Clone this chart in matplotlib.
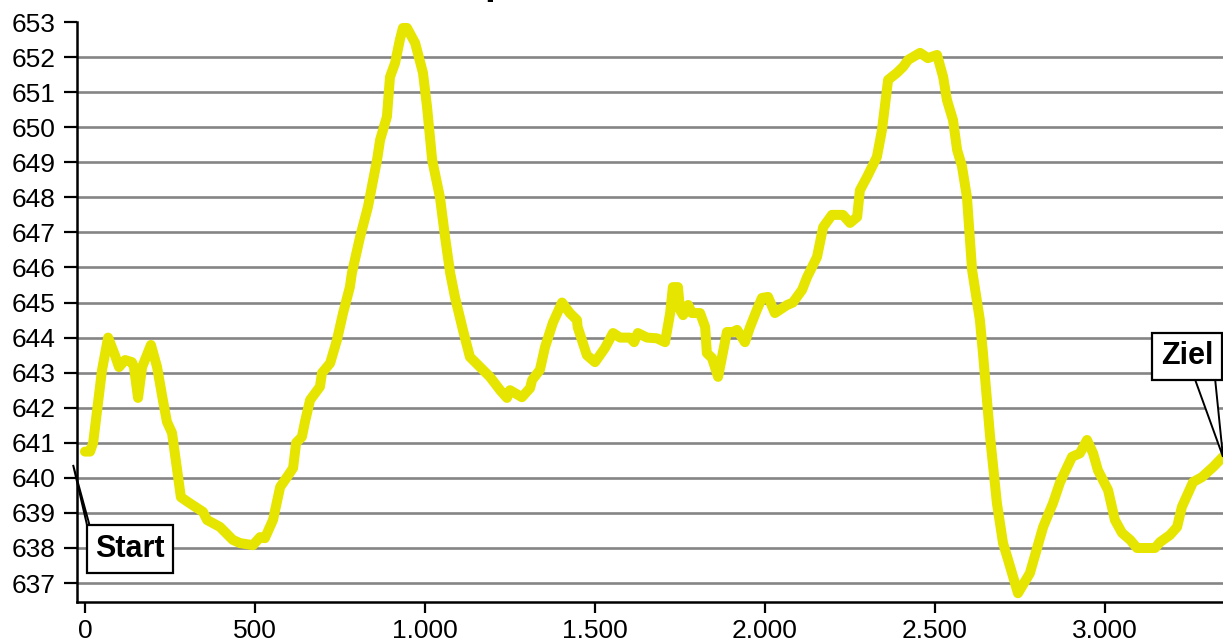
import matplotlib
matplotlib.use("Agg")
import matplotlib.pyplot as plt
from matplotlib.patches import Polygon
from matplotlib.ticker import FixedLocator, FixedFormatter

plt.rcParams['font.family'] = ['Liberation Sans', 'DejaVu Sans']

# distance (m) and elevation (m)
distance = [0, 15, 24, 50, 68, 88, 100, 118, 138, 144, 156, 168, 194, 212, 229, 241, 256,
            274, 282, 303, 347, 359, 397, 435, 456, 494, 515, 529, 553, 574, 594, 612, 621,
            638, 647, 662, 691, 697, 721, 741, 759, 779, 785, 809, 832, 859, 868, 888, 897,
            912, 926, 935, 947, 971, 994, 1006, 1021, 1044, 1059, 1074, 1088, 1112, 1132,
            1162, 1191, 1221, 1241, 1250, 1285, 1309, 1315, 1338, 1353, 1376, 1403, 1426,
            1447, 1449, 1476, 1500, 1529, 1553, 1574, 1603, 1615, 1626, 1653, 1682, 1706,
            1721, 1729, 1744, 1750, 1759, 1774, 1785, 1809, 1824, 1829, 1844, 1862, 1888,
            1906, 1918, 1941, 1956, 1976, 1991, 2009, 2029, 2065, 2082, 2109, 2124, 2153,
            2171, 2197, 2229, 2250, 2271, 2279, 2300, 2329, 2344, 2362, 2388, 2406, 2421,
            2456, 2479, 2506, 2524, 2535, 2553, 2565, 2579, 2594, 2609, 2632, 2641, 2662,
            2682, 2700, 2715, 2744, 2779, 2818, 2847, 2868, 2903, 2926, 2947, 2965, 2979,
            3009, 3029, 3050, 3074, 3094, 3147, 3162, 3191, 3212, 3226, 3259, 3285, 3318,
            3347]
elevation = [640.75, 640.75, 641.0, 643.07, 644.0, 643.5, 643.16, 643.36, 643.3, 643.16,
             642.28, 643.16, 643.79, 643.16, 642.22, 641.6, 641.28, 640.02, 639.45, 639.31,
             639.03, 638.8, 638.6, 638.23, 638.14, 638.08, 638.31, 638.28, 638.8, 639.74,
             640.02, 640.28, 641.0, 641.17, 641.6, 642.22, 642.6, 642.99, 643.27, 643.93,
             644.7, 645.44, 645.84, 646.87, 647.72, 649.07, 649.64, 650.3, 651.43, 651.83,
             652.49, 652.83, 652.83, 652.4, 651.55, 650.58, 649.07, 648.0, 646.87, 645.84,
             645.16, 644.2, 643.45, 643.16, 642.88, 642.5, 642.28, 642.5, 642.3, 642.56,
             642.79, 643.08, 643.73, 644.42, 645.0, 644.7, 644.5, 644.3, 643.5, 643.3,
             643.7, 644.13, 644.0, 644.0, 643.87, 644.13, 644.0, 643.98, 643.87, 644.7,
             645.44, 645.44, 644.79, 644.64, 644.93, 644.7, 644.7, 644.3, 643.56, 643.42,
             642.88, 644.16, 644.16, 644.22, 643.87, 644.3, 644.79, 645.13, 645.16, 644.7,
             644.93, 645.0, 645.36, 645.73, 646.3, 647.15, 647.5, 647.5, 647.27, 647.44,
             648.2, 648.58, 649.15, 649.92, 651.35, 651.55, 651.72, 651.92, 652.12, 651.97,
             652.06, 651.43, 650.78, 650.2, 649.35, 648.9, 648.0, 645.93, 644.5, 643.56,
             641.17, 639.28, 638.14, 637.66, 636.71, 637.28, 638.6, 639.28, 639.88, 640.6,
             640.7, 641.08, 640.7, 640.22, 639.65, 638.8, 638.43, 638.23, 638.0, 638.0,
             638.17, 638.37, 638.6, 639.17, 639.88, 640.02, 640.31, 640.6]

x_ticks = [0, 500, 1000, 1500, 2000, 2500, 3000]
x_tick_labels = ["0", "500", "1.000", "1.500", "2.000", "2.500", "3.000"]
y_ticks = list(range(637, 654))
y_tick_labels = [str(v) for v in y_ticks]

title_text = "Höhenprofil"
start_label = "Start"
end_label = "Ziel"

fig = plt.figure(figsize=(12.23, 6.43), dpi=100)
ax = fig.add_axes([77 / 1223, 1 - 602 / 643, 1 - 77 / 1223, (602 - 22) / 643])

ax.set_xlim(-23.5, 3347)
ax.set_ylim(636.46, 653)

for v in y_ticks[:-1]:
    ax.axhline(v, color='#858585', lw=1.9, zorder=1)

ax.plot(distance, elevation, color='#e5e500', lw=7.2, solid_joinstyle='round',
        solid_capstyle='round', zorder=3)

for s in ['top', 'right']:
    ax.spines[s].set_visible(False)
for s in ['left', 'bottom']:
    ax.spines[s].set_linewidth(1.8)
    ax.spines[s].set_color('black')

ax.yaxis.set_major_locator(FixedLocator(y_ticks))
ax.yaxis.set_major_formatter(FixedFormatter(y_tick_labels))
ax.xaxis.set_major_locator(FixedLocator(x_ticks))
ax.xaxis.set_major_formatter(FixedFormatter(x_tick_labels))
ax.tick_params(axis='y', direction='out', length=9.5, width=1.6, pad=6, labelsize=19)
ax.tick_params(axis='x', direction='out', length=8, width=1.6, pad=4, labelsize=19)

# callout boxes with wedge pointers
box = dict(boxstyle='square,pad=0.28', fc='white', ec='black', lw=1.6)

ax.add_patch(Polygon([(-35, 640.37), (12, 638.70), (12, 638.40)], closed=True,
                     fc='white', ec='black', lw=1.4, clip_on=False, zorder=5))
ax.text(132, 637.97, start_label, ha='center', va='center', fontsize=22,
        fontweight='bold', bbox=box, zorder=6, clip_on=False)

ax.add_patch(Polygon([(distance[-1], elevation[-1]), (3265, 642.8), (3324, 642.8)],
                     closed=True, fc='white', ec='black', lw=1.4, clip_on=False, zorder=5))
ax.text(3241, 643.47, end_label, ha='center', va='center', fontsize=22,
        fontweight='bold', bbox=box, zorder=6, clip_on=False)

fig.text(364 / 1223, 1 + 6 / 643, title_text, fontsize=28, fontweight='bold',
         ha='left', va='baseline')

fig.savefig('out.png', dpi=100)
